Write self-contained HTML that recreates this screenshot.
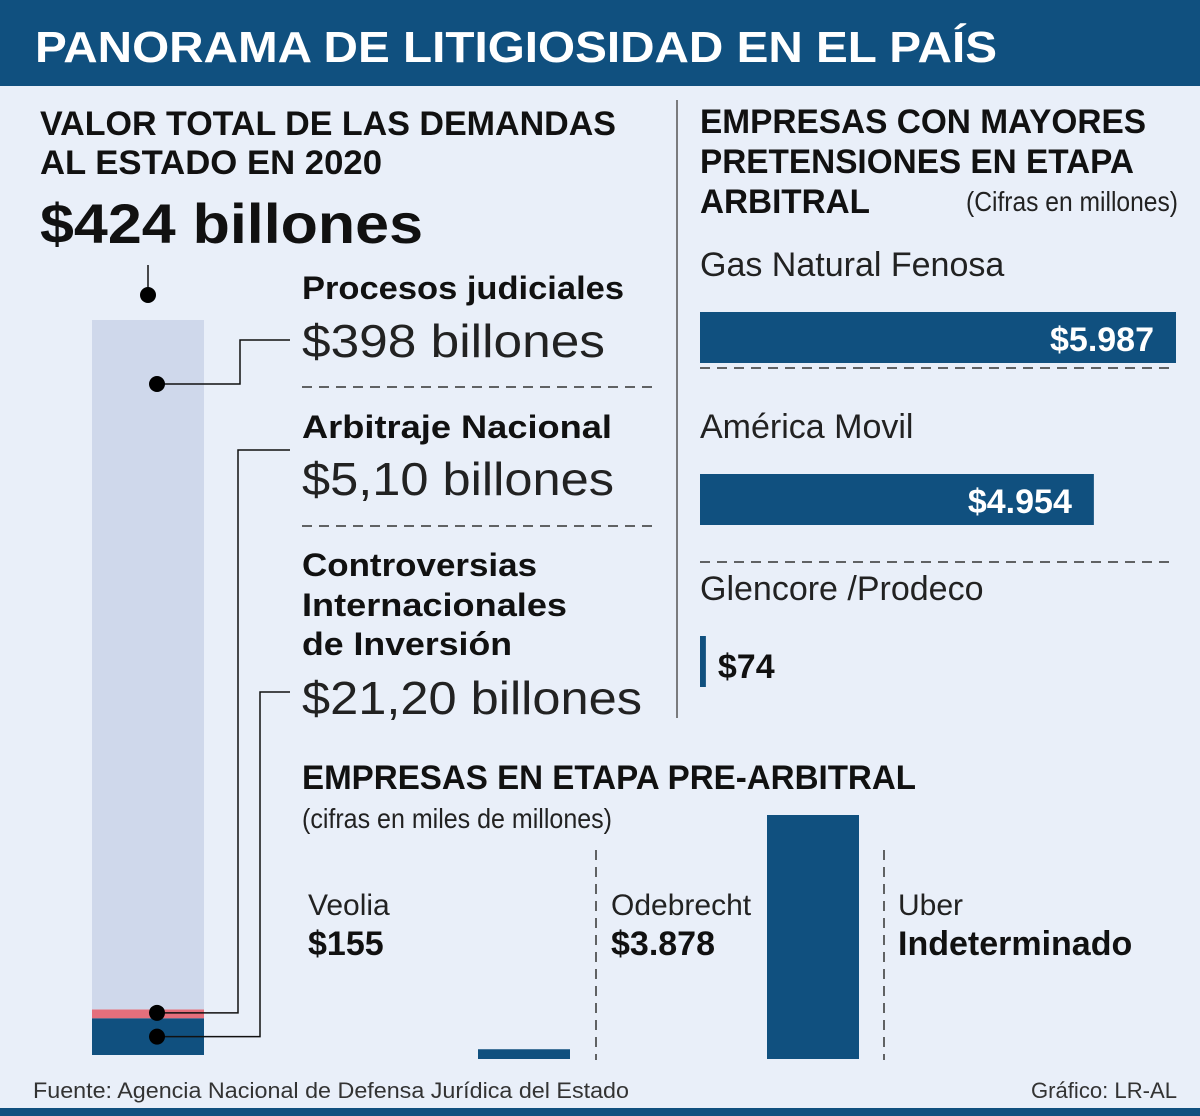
<!DOCTYPE html>
<html><head><meta charset="utf-8">
<style>
html,body{margin:0;padding:0;background:#e9eff9;}
svg{display:block;font-family:"Liberation Sans",sans-serif;}
</style></head>
<body>
<svg id="chart" width="1200" height="1116" viewBox="0 0 1200 1116" xmlns="http://www.w3.org/2000/svg">
<rect x="0" y="0" width="1200" height="1116" fill="#e9eff9"/>
<rect x="0" y="0" width="1200" height="86" fill="#10507f"/>
<text x="35" y="62" font-size="44" font-weight="bold" fill="#fff" textLength="962" lengthAdjust="spacingAndGlyphs">PANORAMA DE LITIGIOSIDAD EN EL PAÍS</text>
<rect x="0" y="1108" width="1200" height="8" fill="#10507f"/>

<text x="40" y="135" font-size="34" font-weight="bold" fill="#111" textLength="576" lengthAdjust="spacingAndGlyphs">VALOR TOTAL DE LAS DEMANDAS</text>
<text x="40" y="174" font-size="34" font-weight="bold" fill="#111" textLength="342" lengthAdjust="spacingAndGlyphs">AL ESTADO EN 2020</text>
<text x="40" y="243" font-size="56" font-weight="bold" fill="#111" textLength="383" lengthAdjust="spacingAndGlyphs">$424 billones</text>

<g id="stack"></g>
<g id="connectors"></g>

<text x="302" y="299" font-size="32" font-weight="bold" fill="#111" textLength="322" lengthAdjust="spacingAndGlyphs">Procesos judiciales</text>
<text x="302" y="357" font-size="46" fill="#222" textLength="303" lengthAdjust="spacingAndGlyphs">$398 billones</text>
<line x1="302" y1="387" x2="658" y2="387" stroke="#333" stroke-width="1.5" stroke-dasharray="10,7"/>
<text x="302" y="438" font-size="32" font-weight="bold" fill="#111" textLength="310" lengthAdjust="spacingAndGlyphs">Arbitraje Nacional</text>
<text x="302" y="495" font-size="46" fill="#222" textLength="312" lengthAdjust="spacingAndGlyphs">$5,10 billones</text>
<line x1="302" y1="526" x2="658" y2="526" stroke="#333" stroke-width="1.5" stroke-dasharray="10,7"/>
<text x="302" y="576" font-size="32" font-weight="bold" fill="#111" textLength="235" lengthAdjust="spacingAndGlyphs">Controversias</text>
<text x="302" y="616" font-size="32" font-weight="bold" fill="#111" textLength="265" lengthAdjust="spacingAndGlyphs">Internacionales</text>
<text x="302" y="655" font-size="32" font-weight="bold" fill="#111" textLength="210" lengthAdjust="spacingAndGlyphs">de Inversión</text>
<text x="302" y="714" font-size="46" fill="#222" textLength="340" lengthAdjust="spacingAndGlyphs">$21,20 billones</text>

<line x1="677" y1="100" x2="677" y2="718" stroke="#555" stroke-width="1.5"/>

<text x="700" y="133" font-size="34" font-weight="bold" fill="#111" textLength="446" lengthAdjust="spacingAndGlyphs">EMPRESAS CON MAYORES</text>
<text x="700" y="173" font-size="34" font-weight="bold" fill="#111" textLength="434" lengthAdjust="spacingAndGlyphs">PRETENSIONES EN ETAPA</text>
<text x="700" y="213" font-size="34" font-weight="bold" fill="#111" textLength="170" lengthAdjust="spacingAndGlyphs">ARBITRAL</text>
<text x="966" y="211" font-size="28" fill="#222" textLength="212" lengthAdjust="spacingAndGlyphs">(Cifras en millones)</text>
<g id="hbars"></g>

<text x="302" y="789" font-size="34" font-weight="bold" fill="#111" textLength="614" lengthAdjust="spacingAndGlyphs">EMPRESAS EN ETAPA PRE-ARBITRAL</text>
<text x="302" y="828" font-size="28" fill="#222" textLength="310" lengthAdjust="spacingAndGlyphs">(cifras en miles de millones)</text>
<line x1="596" y1="850" x2="596" y2="1060" stroke="#333" stroke-width="1.5" stroke-dasharray="10,7"/>
<line x1="884" y1="850" x2="884" y2="1060" stroke="#333" stroke-width="1.5" stroke-dasharray="10,7"/>
<g id="vbars"></g>

<text x="33" y="1098" font-size="22" fill="#333" textLength="596" lengthAdjust="spacingAndGlyphs">Fuente: Agencia Nacional de Defensa Jurídica del Estado</text>
<text x="1177" y="1098" font-size="22" fill="#333" text-anchor="end" textLength="146" lengthAdjust="spacingAndGlyphs">Gráfico: LR-AL</text>
</svg>
<script>
const stackCategories = ["Controversias Internacionales", "Arbitraje Nacional", "Procesos judiciales"];
const stackValues = [21.2, 5.1, 397.7];
const stackColors = ["#10507f", "#e56f7c", "#cfd8eb"];

const arbCompanies = ["Gas Natural Fenosa", "América Movil", "Glencore /Prodeco"];
const arbValues = [5987, 4954, 74];
const arbLabels = ["$5.987", "$4.954", "$74"];

const preCompanies = ["Veolia", "Odebrecht", "Uber"];
const preValues = [155, 3878, 0];
const preLabels = ["$155", "$3.878", "Indeterminado"];

const NS = "http://www.w3.org/2000/svg";
function mk(tag, attrs, parent){const e=document.createElementNS(NS,tag);for(const k in attrs)e.setAttribute(k,attrs[k]);parent.appendChild(e);return e;}

// stacked bar
const stackBottom = 1055, stackTop = 320;
const stackTotal = stackValues.reduce((a,b)=>a+b,0);
function yStack(v){return stackBottom - v/stackTotal*(stackBottom-stackTop);}
const stackG = document.getElementById('stack');
let cum = 0; const mids = [];
stackValues.forEach((v,i)=>{
  const y0 = yStack(cum), y1 = yStack(cum+v);
  const r = mk('rect',{x:92,y:y1,width:112,height:y0-y1,fill:stackColors[i]},stackG);
  
  
  mids.push([y1,y0]); cum += v;
});

// connectors
const cg = document.getElementById('connectors');
function path(d,name){const p=mk('path',{d:d,fill:'none',stroke:'#111','stroke-width':1.5},cg);}
function dot(x,y,name){const c=mk('circle',{cx:x,cy:y,r:8,fill:'#000'},cg);}
path('M148 265 V295','total-connector'); dot(148,295,'total-dot');
path('M157 384 H240 V340 H290','procesos-connector'); dot(157,384,'procesos-dot');
const yArb = (mids[1][0]+mids[1][1])/2 - 1;
path('M157 '+yArb+' H238 V450 H290','arbitraje-connector'); dot(157,yArb,'arbitraje-dot');
const yCi = (mids[0][0]+mids[0][1])/2;
path('M157 '+yCi+' H260 V692 H290','controversias-connector'); dot(157,yCi,'controversias-dot');

// horizontal bars
const hg = document.getElementById('hbars');
const hx0 = 700, hMaxW = 476, hMax = arbValues[0];
function xScale(v){return v/hMax*hMaxW;}
const hRowY = [312,474,636];
arbCompanies.forEach((c,i)=>{
  const y = hRowY[i];
  const t = mk('text',{x:700,y:y-36,'font-size':34,fill:'#222'},hg); t.textContent=c;
  
  
  const w = xScale(arbValues[i]);
  const r = mk('rect',{x:hx0,y:y,width:w,height:51,fill:'#10507f'},hg);
  
  
  let lbl;
  if (w > 150) lbl = mk('text',{x:hx0+w-22,y:y+39,'font-size':34,'font-weight':'bold',fill:'#fff','text-anchor':'end'},hg);
  else lbl = mk('text',{x:hx0+w+12,y:y+42,'font-size':34,'font-weight':'bold',fill:'#111'},hg);
  lbl.textContent = arbLabels[i];
  
  
  if (i < arbCompanies.length-1){
    const l = mk('line',{x1:700,y1:y+56+(i==0?0:32),x2:1176,y2:y+56+(i==0?0:32),stroke:'#333','stroke-width':1.5,'stroke-dasharray':'10,7'},hg);
    
    
  }
});

// vertical bars
const vg = document.getElementById('vbars');
const vBase = 1059, vMaxH = 244, vMax = preValues[1];
function hScale(v){return v/vMax*vMaxH;}
const colTextX = [308,611,898];
const barX = [478,767,1000];
preCompanies.forEach((c,i)=>{
  const n = mk('text',{x:colTextX[i],y:915,'font-size':30,fill:'#222'},vg); n.textContent=c;
  
  
  const v = mk('text',{x:colTextX[i],y:955,'font-size':34,'font-weight':'bold',fill:'#111'},vg); v.textContent=preLabels[i];
  
  
  const h = hScale(preValues[i]);
  if (h > 0){
    const r = mk('rect',{x:barX[i],y:vBase-h,width:92,height:h,fill:'#10507f'},vg);
    
    
  }
});
</script>
</body></html>
